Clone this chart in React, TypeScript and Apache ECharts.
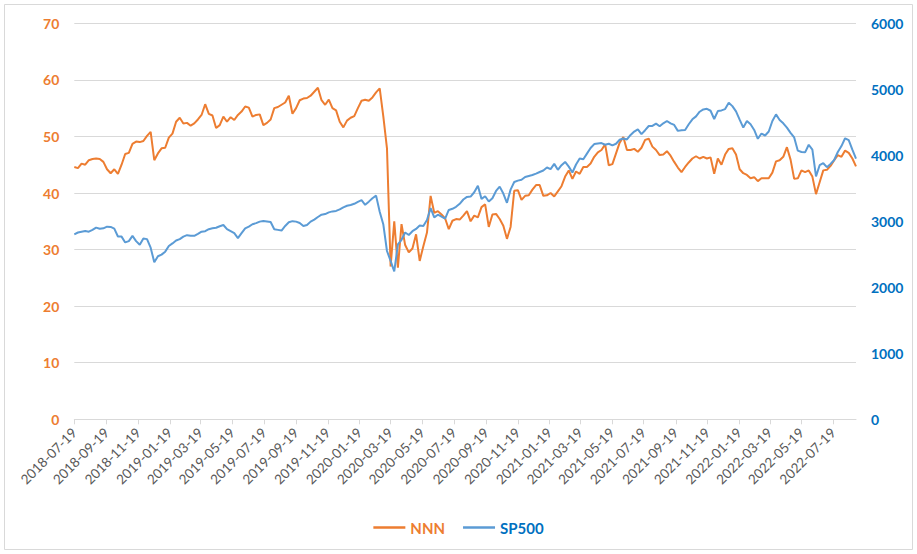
import React, { useEffect, useRef } from "react";
import * as echarts from "echarts";

const startDate = "2018-07-19";
const endDate = "2022-09-01";
const stepDays = 7;

const nnnWeekly = [
  44.6, 44.4, 45.2, 45.0, 45.8, 46.0, 46.1, 46.0, 45.5, 44.2,
  43.5, 44.2, 43.4, 45.0, 46.9, 47.1, 48.7, 49.1, 49.0, 49.2,
  50.1, 50.8, 45.8, 47.0, 47.9, 48.0, 49.8, 50.5, 52.6, 53.3,
  52.3, 52.4, 51.9, 52.3, 53.0, 53.8, 55.7, 54.0, 53.7, 51.5,
  52.0, 53.5, 52.6, 53.4, 52.9, 53.8, 54.4, 55.3, 55.1, 53.5,
  53.8, 53.9, 52.0, 52.4,
  53.0, 55.0, 55.2, 55.6, 56.0, 57.2, 54.0, 55.0, 56.4, 56.7,
  56.8, 57.2, 57.9, 58.6, 56.4, 55.6, 56.5, 55.0, 54.6, 52.6,
  51.6, 52.8, 53.3, 53.6, 55.0, 56.3, 56.5, 56.3, 56.9, 57.8,
  58.5, 53.5, 47.9, 27.0, 35.0, 26.8, 34.5, 30.8, 29.5, 30.2,
  32.7, 28.0, 30.6, 33.0, 39.5, 36.5, 36.8, 36.2, 35.5, 33.6,
  35.1, 35.4, 35.3, 36.0,
  36.8, 35.0, 36.0, 35.7, 37.5, 38.0, 34.0, 36.2, 36.3, 35.4,
  34.2, 31.9, 34.0, 40.4, 40.5, 38.8, 39.5, 39.6, 40.6, 41.4,
  41.4, 39.5, 39.6, 40.0, 39.4, 40.3, 41.2, 42.9, 44.0, 42.5,
  43.8, 43.4, 44.6, 44.6, 45.2, 46.4, 47.2, 47.6, 48.6, 44.9,
  45.1, 47.0, 48.9, 49.9, 47.6, 47.6, 47.8, 47.3, 48.0, 49.4,
  49.6, 48.2, 47.6, 46.7,
  46.8, 47.4, 46.6, 45.5, 44.5, 43.7, 44.6, 45.4, 46.1, 46.5,
  46.1, 46.4, 46.1, 46.3, 43.4, 46.1, 45.0, 46.8, 47.8, 47.9,
  46.8, 44.2, 43.5, 43.2, 42.6, 42.8, 42.1, 42.6, 42.6, 42.6,
  43.6, 45.6, 45.8, 46.4, 48.1, 45.9, 42.5, 42.6, 44.0, 43.7,
  44.0, 42.9, 39.8, 41.9, 44.0, 44.1, 44.8, 45.8, 46.7, 46.4,
  47.5, 47.1, 46.1, 44.7,
];

const sp500Weekly = [
  2803, 2830, 2843, 2853, 2843, 2870, 2904, 2886, 2894, 2919,
  2915, 2890, 2770, 2768, 2680, 2700, 2780, 2700, 2645, 2740,
  2730, 2600, 2380, 2470, 2495, 2540, 2625, 2665, 2710, 2730,
  2768, 2790, 2780, 2780, 2810, 2843, 2850, 2880, 2894, 2902,
  2925, 2944, 2880, 2850, 2820, 2745, 2820, 2894, 2920, 2955,
  2972, 2995, 3005, 2998,
  2990, 2880, 2870, 2860, 2930, 2985, 3002, 2995, 2975, 2930,
  2944, 2995, 3025, 3065, 3100, 3110, 3135, 3150, 3157, 3180,
  3212, 3235, 3247, 3265, 3295, 3320, 3250, 3298, 3350, 3389,
  3146, 2950, 2550, 2400, 2240, 2650, 2720, 2830, 2793, 2850,
  2885, 2935, 2930, 3020, 3200, 3060, 3100, 3071, 3040, 3172,
  3190, 3220, 3265, 3330,
  3370, 3374, 3440, 3540, 3340, 3380, 3300, 3350, 3460, 3525,
  3420, 3280, 3480, 3595, 3616, 3630, 3672, 3687, 3702, 3722,
  3747, 3770, 3815, 3790, 3870, 3780, 3850, 3900, 3828, 3740,
  3860, 3950, 3940, 4025, 4110, 4170, 4180, 4185, 4160, 4175,
  4150, 4175, 4235, 4255, 4240, 4308, 4359, 4394, 4320, 4380,
  4444, 4445, 4480, 4440,
  4485, 4520, 4485, 4460, 4370, 4380, 4384, 4470, 4545, 4590,
  4660, 4695, 4705, 4675, 4550, 4670, 4680, 4700, 4795, 4745,
  4665, 4540, 4420, 4520, 4470, 4384, 4250, 4330, 4300, 4360,
  4520, 4620, 4535, 4485, 4420, 4340, 4270, 4070, 4050, 4045,
  4160, 4085, 3680, 3850, 3880, 3820, 3870, 3929, 4050, 4140,
  4258, 4230, 4085, 3950,
];

const seriesNames = ["NNN", "SP500"];
const leftAxis = { min: 0, max: 70, interval: 10 };
const rightAxis = { min: 0, max: 6000, interval: 1000 };

function toUTC(s: string) {
  const [y, m, d] = s.split("-").map(Number);
  return Date.UTC(y, m - 1, d);
}
function fmt(t: number) {
  return new Date(t).toISOString().slice(0, 10);
}
const DAY = 86400000;
const categories: string[] = [];
for (let t = toUTC(startDate); t <= toUTC(endDate); t += DAY) categories.push(fmt(t));
const weekDates = nnnWeekly.map((_, k) => fmt(toUTC(startDate) + k * stepDays * DAY));

const isLabelDay = (_i: number, v: string) =>
  v.slice(8) === "19" && Number(v.slice(5, 7)) % 2 === 1;

const FONT = "Lato, 'Open Sans', sans-serif";

export default function App() {
  const ref = useRef<HTMLDivElement>(null);
  useEffect(() => {
    const chart = echarts.init(ref.current!, undefined, { renderer: "svg" });
    chart.setOption({
      animation: false,
      backgroundColor: "#ffffff",
      textStyle: { fontFamily: FONT },
      grid: { left: 74.3, right: 61, top: 23.3, bottom: 134.7, containLabel: false },
      graphic: [
        {
          type: "rect",
          shape: { x: 4.5, y: 4.5, width: 908, height: 545 },
          style: { fill: "none", stroke: "#d9d9d9", lineWidth: 1 },
          silent: true,
        },
      ],
      legend: {
        top: 515,
        left: "center",
        icon: "rect",
        itemWidth: 32,
        itemHeight: 2.5,
        itemGap: 18,
        data: [
          { name: seriesNames[0], textStyle: { color: "#ED7D31" } },
          { name: seriesNames[1], textStyle: { color: "#0070C0" } },
        ],
        textStyle: { fontSize: 15, fontWeight: "bold", fontFamily: FONT },
      },
      xAxis: {
        type: "category",
        data: categories,
        boundaryGap: false,
        axisLine: { lineStyle: { color: "#d9d9d9", width: 1 } },
        axisTick: { show: true, interval: isLabelDay, length: 5, lineStyle: { color: "#d9d9d9" } },
        axisLabel: {
          interval: isLabelDay,
          rotate: 45,
          margin: 11,
          color: "#595959",
          fontSize: 13.5,
          fontFamily: FONT,
        },
        splitLine: { show: false },
      },
      yAxis: [
        {
          type: "value",
          ...leftAxis,
          position: "left",
          axisLine: { show: false },
          axisTick: { show: false },
          axisLabel: {
            color: "#ED7D31",
            fontWeight: "bold",
            fontSize: 14,
            margin: 15,
            fontFamily: FONT,
            formatter: (v: number) => String(v),
          },
          splitLine: { lineStyle: { color: "#d9d9d9", width: 1 } },
        },
        {
          type: "value",
          ...rightAxis,
          position: "right",
          axisLine: { show: false },
          axisTick: { show: false },
          axisLabel: {
            color: "#0070C0",
            fontWeight: "bold",
            fontSize: 14,
            margin: 15,
            fontFamily: FONT,
            formatter: (v: number) => String(v),
          },
          splitLine: { show: false },
        },
      ],
      series: [
        {
          name: seriesNames[0],
          type: "line",
          yAxisIndex: 0,
          symbol: "none",
          data: weekDates.map((d, i) => [d, nnnWeekly[i]]),
          lineStyle: { color: "#ED7D31", width: 2 },
          itemStyle: { color: "#ED7D31" },
        },
        {
          name: seriesNames[1],
          type: "line",
          yAxisIndex: 1,
          symbol: "none",
          data: weekDates.map((d, i) => [d, sp500Weekly[i]]),
          lineStyle: { color: "#5B9BD5", width: 2 },
          itemStyle: { color: "#5B9BD5" },
        },
      ],
    });
    return () => chart.dispose();
  }, []);
  return (
    <div
      ref={ref}
      style={{ position: "absolute", left: 0, top: 0, width: 917, height: 554 }}
    />
  );
}
